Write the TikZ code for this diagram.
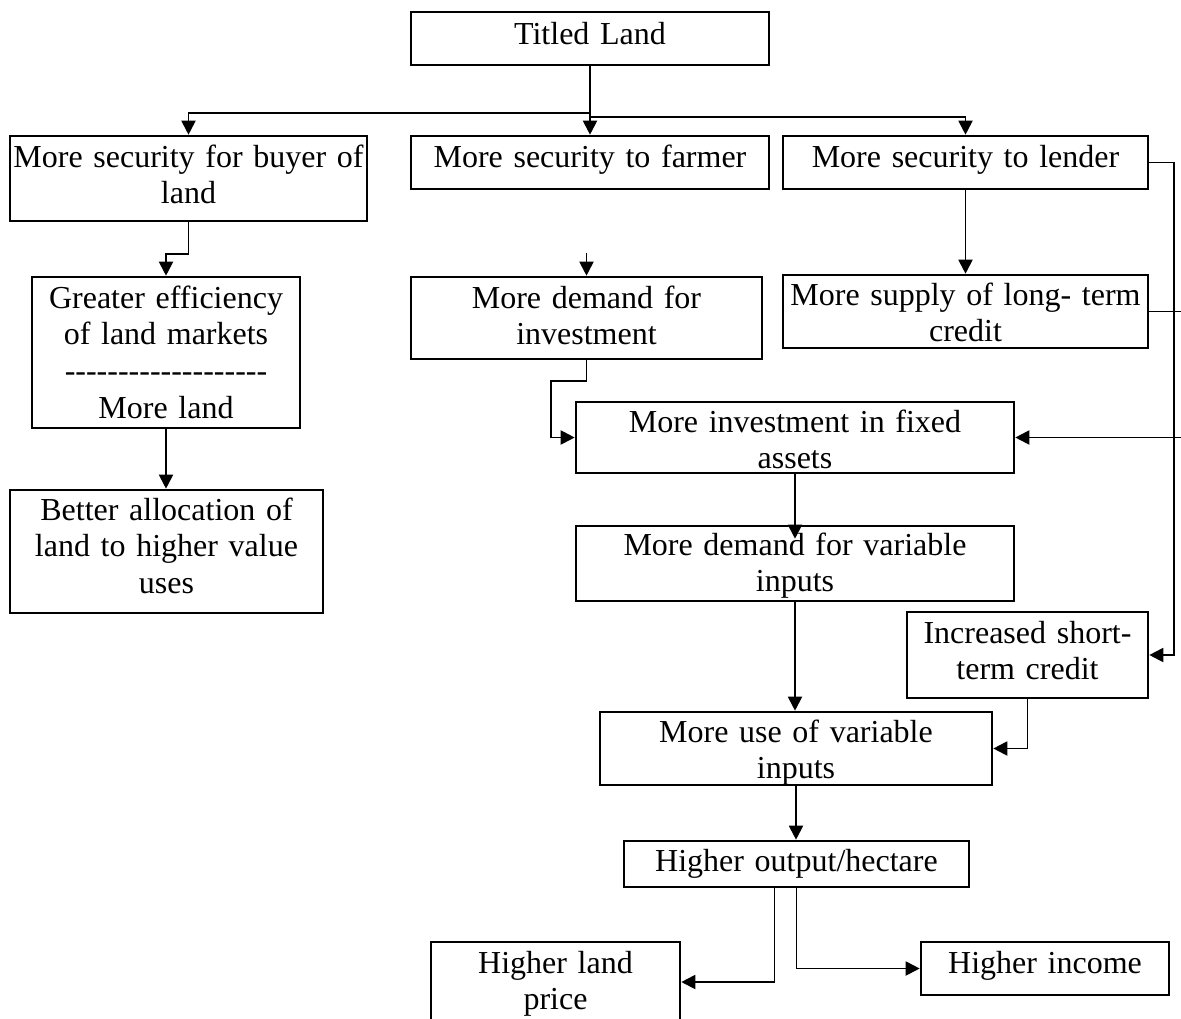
\documentclass[tikz,border=0pt]{standalone}
\usepackage{fontspec}
\setmainfont{Liberation Serif}
\usetikzlibrary{arrows.meta,calc}
\newcommand\hy{\mbox{-}}
\newcommand\dashrow{\hy\hy\hy\hy\hy\hy\hy\hy\hy\hy\hy\hy\hy\hy\hy\hy\hy\hy\hy}
\tikzset{
  box/.style={draw, line width=2.6pt, fill=white, inner sep=0pt, align=center, text height=24pt},
  conn/.style={line width=1.9pt},
  arr/.style={conn, -{Triangle[length=14pt,width=14pt]}},
}
\begin{document}
\begin{tikzpicture}[x=1pt,y=-1pt,font=\fontsize{32pt}{36.8pt}\selectfont]
\clip (0,0) rectangle (1181,1018);
\fill[white] (0,0) rectangle (1181,1018);

\node[box, minimum width=358pt, minimum height=53pt, text width=358pt, text depth=13pt] (titled) at (590,38.5) {Titled Land};
\node[box, minimum width=357pt, minimum height=85pt, text width=357pt, text depth=47pt] (buyer) at (188.5,178.5) {More security for buyer of\\land};
\node[box, minimum width=358pt, minimum height=53pt, text width=358pt, text depth=15pt] (farmer) at (590,162.5) {More security to farmer};
\node[box, minimum width=365pt, minimum height=53pt, text width=365pt, text depth=15pt] (lender) at (965.5,162.5) {More security to lender};
\node[box, minimum width=268pt, minimum height=151pt, text width=268pt, text depth=113pt] (greater) at (166,352.5) {Greater efficiency\\of land markets\\\dashrow\\More land};
\node[box, minimum width=351pt, minimum height=82pt, text width=351pt, text depth=44pt] (dinv) at (586.5,318) {More demand for\\investment};
\node[box, minimum width=365pt, minimum height=73pt, text width=365pt, text depth=37pt] (supply) at (965.5,311.5) {More supply of long- term\\credit};
\node[box, minimum width=438pt, minimum height=71pt, text width=438pt, text depth=35pt] (inv) at (795,437.5) {More investment in fixed\\assets};
\node[box, minimum width=438pt, minimum height=75pt, text width=438pt, text depth=41pt] (dvar) at (795,563.5) {More demand for variable\\inputs};
\node[box, minimum width=241pt, minimum height=86pt, text width=241pt, text depth=48pt] (short) at (1027.5,655) {Increased short-\\term credit};
\node[box, minimum width=392pt, minimum height=73pt, text width=392pt, text depth=37pt] (use) at (796,748.5) {More use of variable\\inputs};
\node[box, minimum width=345pt, minimum height=46pt, text width=345pt, text depth=10pt] (output) at (796.5,864) {Higher output/hectare};
\node[box, minimum width=249pt, minimum height=80pt, text width=249pt, text depth=42pt] (lprice) at (555.5,982) {Higher land\\price};
\node[box, minimum width=248pt, minimum height=53pt, text width=248pt, text depth=15pt] (income) at (1045,968.5) {Higher income};
\node[box, minimum width=313pt, minimum height=123pt, text width=313pt, text depth=87pt] (better) at (166.5,551.5) {Better allocation of\\land to higher value\\uses};

\coordinate (stub) at (586.5,253);

\draw[arr] (titled.south) -- (farmer.north);
\draw[arr] ($(titled.south)+(0,47)$) -| (buyer.north);
\draw[arr] ($(titled.south)+(0,51)$) -| (lender.north);
\draw[arr] (buyer.south) -- ++(0,32) -| (greater.north);
\draw[arr] (stub) -- (dinv.north);
\draw[arr] (dinv.south) -- ++(0,21) -| ($(inv.west)+(-24,0)$) -- (inv.west);
\draw[arr] (lender.south) -- (supply.north);
\draw[arr] (lender.east) -- ++(25,0) |- (short.east);
\draw[arr] (supply.east) -- ++(45,0) |- (inv.east);
\draw[arr] (inv.south) -- ($(dvar.north)+(0,14)$);
\draw[arr] (dvar.south) -- (dvar.south |- use.north);
\draw[arr] (short.south) |- (use.east);
\draw[arr] (use.south) -- (use.south |- output.north);
\draw[arr] ($(output.south)+(-22,0)$) |- (lprice.east);
\draw[arr] (output.south) |- (income.west);
\draw[arr] (greater.south) -- (greater.south |- better.north);
\end{tikzpicture}
\end{document}
